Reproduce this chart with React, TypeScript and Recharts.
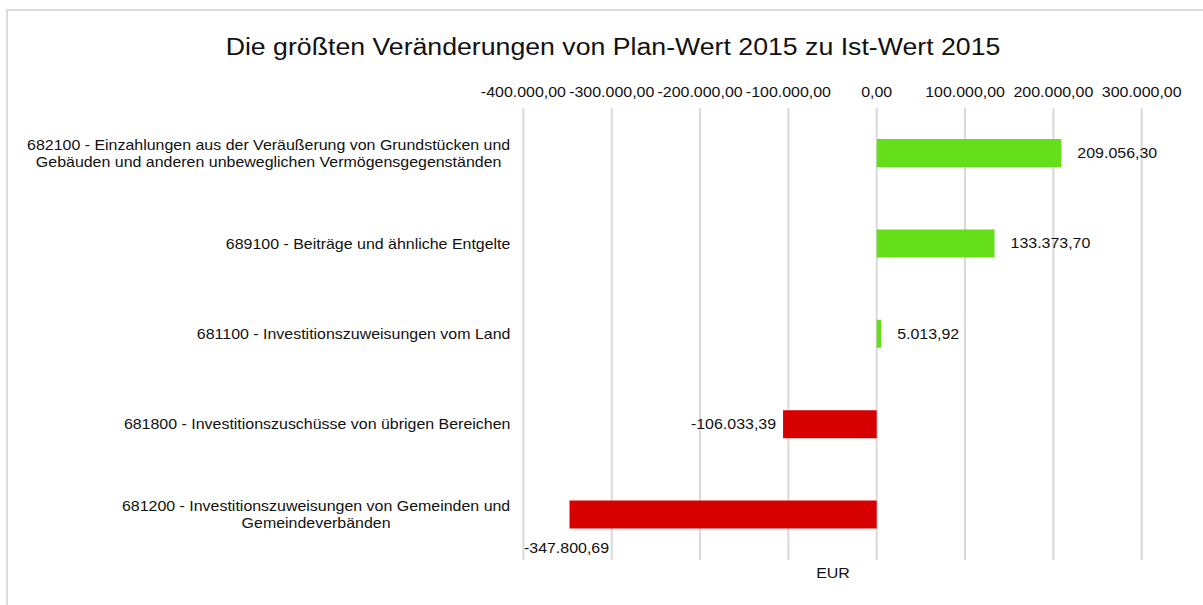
import React from "react";
import { BarChart, Bar, XAxis, YAxis, CartesianGrid, Cell, LabelList } from "recharts";

const categories = [
  "682100 - Einzahlungen aus der Veräußerung von Grundstücken und\nGebäuden und anderen unbeweglichen Vermögensgegenständen",
  "689100 - Beiträge und ähnliche Entgelte",
  "681100 - Investitionszuweisungen vom Land",
  "681800 - Investitionszuschüsse von übrigen Bereichen",
  "681200 - Investitionszuweisungen von Gemeinden und\nGemeindeverbänden",
];
const changes = [209056.3, 133373.7, 5013.92, -106033.39, -347800.69];
const xTicks = [-400000, -300000, -200000, -100000, 0, 100000, 200000, 300000];

const title = "Die größten Veränderungen von Plan-Wert 2015 zu Ist-Wert 2015";
const axisTitle = "EUR";

const FONT = '"Liberation Sans", Arial, sans-serif';
const SX = 1.14; // reference text is drawn a bit wider than Arial
const TXT = "#111";
const GREEN = "#63de19";
const RED = "#d60000";
const PLOT_LEFT = 523.4;

const data = categories.map((name, i) => ({ name, value: changes[i] }));

function fmt(v: number) {
  const [i, d] = Math.abs(v).toFixed(2).split(".");
  return (v < 0 ? "-" : "") + i.replace(/\B(?=(\d{3})+(?!\d))/g, ".") + "," + d;
}

let ctx: CanvasRenderingContext2D | null = null;
function textWidth(s: string, size: number) {
  if (!ctx) ctx = document.createElement("canvas").getContext("2d");
  if (!ctx) return s.length * size * 0.5;
  ctx.font = `${size}px ${FONT}`;
  return ctx.measureText(s).width * SX;
}

function SText({ x, y, anchor = "start", size = 14, children }: { x: number; y: number; anchor?: "start" | "middle" | "end"; size?: number; children: React.ReactNode }) {
  return (
    <text transform={`translate(${x} ${y}) scale(${SX} 1)`} textAnchor={anchor} fontSize={size} fontFamily={FONT} fill={TXT}>
      {children}
    </text>
  );
}

function XTick(props: any) {
  const { x, y, payload } = props;
  return <SText x={x} y={y - 11.5} anchor="middle">{fmt(payload.value)}</SText>;
}

function YTick(props: any) {
  const { x, y, payload } = props;
  const lines = String(payload.value).split("\n");
  if (lines.length === 1) return <SText x={x} y={y + 5} anchor="end">{lines[0]}</SText>;
  const w = Math.max(...lines.map((l) => textWidth(l, 14)));
  const cx = x - w / 2;
  const lh = 17;
  const y0 = y - ((lines.length - 1) * lh) / 2 + 5;
  return (
    <g>
      {lines.map((l, i) => (
        <SText key={i} x={cx} y={y0 + i * lh} anchor="middle">{l}</SText>
      ))}
    </g>
  );
}

function ValueLabel(props: any) {
  const { x, y, width, height, value } = props;
  const v = Number(value);
  const left = Math.min(x, x + width);
  const right = Math.max(x, x + width);
  const cy = y + height / 2;
  const s = fmt(v);
  if (v >= 0) return <SText x={right + 16} y={cy + 5}>{s}</SText>;
  const w = textWidth(s, 14);
  if (left - 7 - w < PLOT_LEFT) {
    return <SText x={left - 3} y={y + height + 24} anchor="middle">{s}</SText>;
  }
  return <SText x={left - 7} y={cy + 5} anchor="end">{s}</SText>;
}

export default function App() {
  return (
    <div style={{ position: "fixed", left: 0, top: 0, width: 1203, height: 605, overflow: "hidden", background: "#fff" }}>
      <div style={{ position: "absolute", left: 6, top: 9, width: 1400, height: 800, border: "2px solid #dcdcdc", boxSizing: "border-box" }} />
      <div
        style={{
          position: "absolute", left: 612.5, top: 35.5, fontFamily: FONT, fontSize: 23, lineHeight: "23px",
          color: TXT, whiteSpace: "nowrap", transform: `translateX(-50%) scaleX(1.16)`,
        }}
      >
        {title}
      </div>
      <div
        style={{
          position: "absolute", left: 832.5, top: 566, fontFamily: FONT, fontSize: 14, lineHeight: "14px",
          color: TXT, whiteSpace: "nowrap", transform: `translateX(-50%) scaleX(${SX})`,
        }}
      >
        {axisTitle}
      </div>
      <div style={{ position: "absolute", left: 0, top: 0 }}>
        <BarChart width={1203} height={605} data={data} layout="vertical" margin={{ top: 78, right: 61.3, bottom: 45, left: 0 }}>
          <CartesianGrid horizontal={false} stroke="#d9d9d9" strokeWidth={2} />
          <XAxis
            type="number"
            orientation="top"
            height={30}
            domain={[-400000, 300000]}
            ticks={xTicks}
            axisLine={false}
            tickLine={false}
            tickSize={0}
            tickMargin={0}
            tick={<XTick />}
            allowDataOverflow
          />
          <YAxis
            type="category"
            dataKey="name"
            width={PLOT_LEFT}
            axisLine={false}
            tickLine={false}
            tickSize={0}
            tickMargin={13}
            tick={<YTick />}
            interval={0}
          />
          <Bar dataKey="value" barSize={28} isAnimationActive={false}>
            {data.map((d, i) => (
              <Cell key={i} fill={d.value >= 0 ? GREEN : RED} />
            ))}
            <LabelList dataKey="value" content={<ValueLabel />} />
          </Bar>
        </BarChart>
      </div>
    </div>
  );
}
